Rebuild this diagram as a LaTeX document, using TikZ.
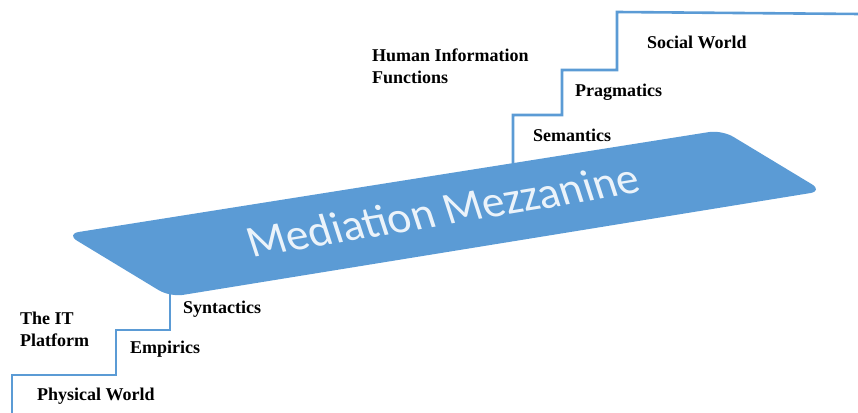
\documentclass[tikz,border=0pt]{standalone}
\usepackage{fontspec}
\setmainfont{Liberation Serif}
\newfontfamily\calib{Carlito}
\definecolor{mezblue}{HTML}{5B9BD5}
\definecolor{stairblue}{HTML}{5B9BD5}
\begin{document}
\begin{tikzpicture}[x=1pt,y=-1pt,
  lbl/.style={font=\fontsize{18}{22}\selectfont\bfseries, text=black, inner sep=0pt, anchor=west, align=left},
  stair/.style={draw=stairblue, line width=2.6pt, line join=miter},
  mez/.style={fill=mezblue, draw=none, rounded corners=13pt}]
\useasboundingbox (0,0) rectangle (858,412);
% mezzanine
\coordinate (mL) at (66,234);
\coordinate (mB) at (170,297);
\coordinate (mR) at (823,191);
\coordinate (mT) at (722,130);
\fill[mez] (mL) -- (mT) -- (mR) -- (mB) -- cycle;
\node[font=\calib\fontsize{45}{45}\selectfont, text=white!88!mezblue, rotate=9.5, xslant=-0.15, inner sep=0pt] (mezz) at (443,210) {Mediation Mezzanine};
% lower stairs
\coordinate (s0) at (12,414);
\coordinate (s1) at (12,375);
\coordinate (s2) at (116,375);
\coordinate (s3) at (116,330);
\coordinate (s4) at (170,330);
\coordinate (s5) at (170,294);
\draw[stair] (s0) -- (s1) -- (s2) -- (s3) -- (s4) -- (s5);
% upper stairs
\coordinate (u0) at (513,164);
\coordinate (u1) at (513,115);
\coordinate (u2) at (562,115);
\coordinate (u3) at (562,70);
\coordinate (u4) at (617,70);
\coordinate (u5) at (617,12);
\coordinate (u6) at (860,14);
\draw[stair] (u0) -- (u1) -- (u2) -- (u3) -- (u4) -- (u5) -- (u6);
% labels
\node[lbl] (phys) at (37,396) {Physical World};
\node[lbl] (emp) at (130,349) {Empirics};
\node[lbl] (syn) at (183,309) {Syntactics};
\node[lbl] (itp) at (20,329) {The IT\\Platform};
\node[lbl] (sem) at (533,135) {Semantics};
\node[lbl] (prag) at (575,92) {Pragmatics};
\node[lbl] (soc) at (647,42) {Social World};
\node[lbl] (hif) at (372,66) {Human Information\\Functions};
\end{tikzpicture}
\end{document}
